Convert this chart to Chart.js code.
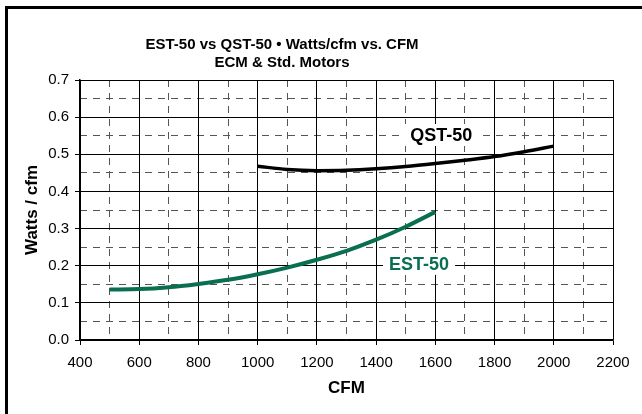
<!DOCTYPE html>
<html>
<head>
<meta charset="utf-8">
<script src="https://cdn.jsdelivr.net/npm/chart.js@4/dist/chart.umd.min.js"></script>
<style>
  body { margin: 0; background: #fff; }
  #wrap { width: 642px; height: 414px; }
</style>
</head>
<body>
<div id="wrap"><canvas id="chart" width="642" height="414"></canvas></div>
<script>
// values
const titleLines = ['EST-50 vs QST-50 \u2022 Watts/cfm vs. CFM', 'ECM & Std. Motors']
const estCfm = [500, 600, 700, 800, 900, 1000, 1100, 1200, 1300, 1400, 1500, 1600]
const estValues = [0.136, 0.137, 0.142, 0.151, 0.162, 0.177, 0.195, 0.216, 0.240, 0.270, 0.305, 0.345]
const qstCfm = [1000, 1100, 1200, 1300, 1400, 1500, 1600, 1700, 1800, 1900, 2000]
const qstValues = [0.468, 0.459, 0.456, 0.457, 0.461, 0.467, 0.475, 0.484, 0.494, 0.507, 0.522]
const xTicks = [400, 600, 800, 1000, 1200, 1400, 1600, 1800, 2000, 2200]
const yTicks = [0.0, 0.1, 0.2, 0.3, 0.4, 0.5, 0.6, 0.7]
const seriesLabels = [
  { text: 'QST-50', x: 1620, y: 0.552, color: '#000000' },
  { text: 'EST-50', x: 1545, y: 0.205, color: '#0a6e50' }
]

const fontFamily = '"Liberation Sans", Arial, Helvetica, sans-serif'
const green = '#0a6e50'

function toPoints (xs, ys) {
  return xs.map((x, i) => ({ x: x, y: ys[i] }))
}

// frame + title, drawn on the canvas
const framePlugin = {
  id: 'frame',
  beforeDraw (chart) {
    const ctx = chart.ctx
    ctx.save()
    ctx.fillStyle = '#fff'
    ctx.fillRect(0, 0, chart.width, chart.height)
    ctx.fillStyle = '#000'
    ctx.fillRect(5, 6, 3, chart.height - 6)
    ctx.fillRect(5, 6, chart.width - 5, 3)
    ctx.restore()
  },
  afterDraw (chart) {
    const ctx = chart.ctx
    ctx.save()
    ctx.fillStyle = '#000'
    ctx.font = 'bold 15px ' + fontFamily
    ctx.textAlign = 'center'
    ctx.textBaseline = 'middle'
    titleLines.forEach((line, i) => ctx.fillText(line, 282, 45 + i * 18))
    ctx.restore()
  }
}

// series names with a white box behind them
const labelPlugin = {
  id: 'seriesLabels',
  afterDatasetsDraw (chart) {
    const ctx = chart.ctx
    const xs = chart.scales.x
    const ys = chart.scales.y
    ctx.save()
    ctx.font = 'bold 18px ' + fontFamily
    ctx.textAlign = 'center'
    ctx.textBaseline = 'middle'
    seriesLabels.forEach(l => {
      const px = xs.getPixelForValue(l.x)
      const py = ys.getPixelForValue(l.y)
      const w = ctx.measureText(l.text).width
      ctx.fillStyle = '#fff'
      ctx.fillRect(px - w / 2 - 6, py - 11, w + 12, 22)
      ctx.fillStyle = l.color
      ctx.fillText(l.text, px, py + 1)
    })
    ctx.restore()
  }
}

const isMajorX = v => Math.round(v) % 200 === 0
const isMajorY = v => Math.round(v * 100) % 10 === 0

new Chart(document.getElementById('chart'), {
  type: 'line',
  data: {
    datasets: [{
      label: 'QST-50',
      data: toPoints(qstCfm, qstValues),
      borderColor: '#000',
      borderWidth: 3.5,
      pointRadius: 0,
      cubicInterpolationMode: 'monotone',
      fill: false
    }, {
      label: 'EST-50',
      data: toPoints(estCfm, estValues),
      borderColor: green,
      borderWidth: 4,
      pointRadius: 0,
      cubicInterpolationMode: 'monotone',
      fill: false
    }]
  },
  options: {
    responsive: false,
    animation: false,
    devicePixelRatio: 1,
    layout: { padding: { left: 8, right: 29, top: 80, bottom: 0 } },
    plugins: {
      legend: { display: false },
      title: { display: false },
      tooltip: { enabled: false }
    },
    scales: {
      xm: {
        type: 'linear',
        position: 'bottom',
        min: 400,
        max: 2200,
        ticks: { display: false, stepSize: 100 },
        grid: {
          z: -2,
          drawTicks: false,
          lineWidth: 1,
          color: ctx => isMajorX(ctx.tick.value) ? 'rgba(0,0,0,0)' : '#555'
        },
        border: { display: false, dash: [7, 6] },
        afterFit: scale => { scale.height = 0 }
      },
      ym: {
        type: 'linear',
        position: 'left',
        min: 0,
        max: 0.7,
        ticks: { display: false, stepSize: 0.05 },
        grid: {
          z: -2,
          drawTicks: false,
          lineWidth: 1,
          color: ctx => isMajorY(ctx.tick.value) ? 'rgba(0,0,0,0)' : '#555'
        },
        border: { display: false, dash: [7, 6] },
        afterFit: scale => { scale.width = 0 }
      },
      x: {
        type: 'linear',
        position: 'bottom',
        min: xTicks[0],
        max: xTicks[xTicks.length - 1],
        afterBuildTicks: scale => { scale.ticks = xTicks.map(v => ({ value: v })) },
        ticks: {
          color: '#000',
          font: { family: fontFamily, size: 15 },
          padding: 9,
          maxRotation: 0,
          callback: v => String(v)
        },
        grid: { color: '#000', lineWidth: 1, tickLength: 5, tickColor: '#000' },
        border: { color: '#000', width: 1.5 },
        title: {
          display: true,
          text: 'CFM',
          color: '#000',
          font: { family: fontFamily, size: 17, weight: 'bold' },
          padding: { top: 0, bottom: 15 }
        },
        afterFit: scale => { scale.height = 74 }
      },
      y: {
        type: 'linear',
        position: 'left',
        min: yTicks[0],
        max: yTicks[yTicks.length - 1],
        afterBuildTicks: scale => { scale.ticks = yTicks.map(v => ({ value: v })) },
        ticks: {
          color: '#000',
          font: { family: fontFamily, size: 15 },
          padding: 6,
          callback: v => v.toFixed(1)
        },
        grid: { color: '#000', lineWidth: 1, tickLength: 5, tickColor: '#000' },
        border: { color: '#000', width: 1.5 },
        title: {
          display: true,
          text: 'Watts / cfm',
          color: '#000',
          font: { family: fontFamily, size: 17, weight: 'bold' },
          padding: { top: 14, bottom: 0 }
        },
        afterFit: scale => { scale.width = 72 }
      }
    }
  },
  plugins: [framePlugin, labelPlugin]
})
</script>
</body>
</html>
